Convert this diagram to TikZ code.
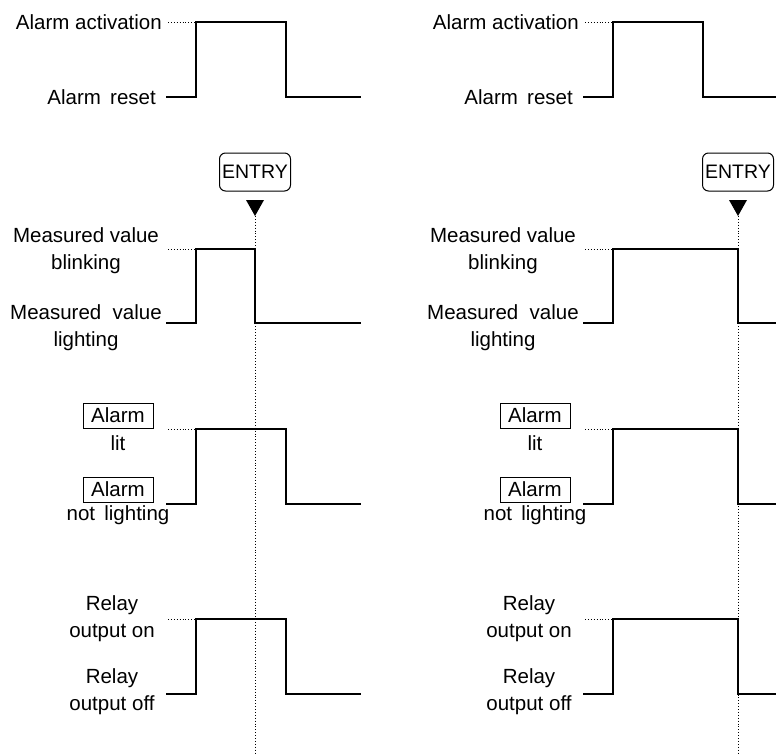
\documentclass[tikz,border=0pt]{standalone}
\usepackage{fontspec}
\setmainfont{Liberation Sans}
\usetikzlibrary{positioning}
\newcommand{\tdfont}{\fontsize{20.5}{27}\selectfont}
\tikzset{
  wave/.style={
    line width=2pt,
    line join=miter
  },
  guide/.style={
    dotted,
    line width=0.9pt
  },
  tag/.style={
    align=center,
    inner sep=0pt,
    font=\tdfont
  },
  lampbox/.style={
    draw,
    line width=1pt,
    inner sep=0pt,
    minimum width=70pt,
    minimum height=25pt,
    font=\tdfont
  },
  entrykey/.style={
    draw,
    line width=1pt,
    rounded corners=6pt,
    inner sep=0pt,
    minimum width=71pt,
    minimum height=38pt,
    font=\fontsize{19.5}{20}\selectfont
  }
}

\begin{document}
\begin{tikzpicture}[x=1pt,y=-1pt]
  \path[use as bounding box, clip] (0,0) rectangle (776,755);
  % left: ENTRY before reset, right: ENTRY after reset
  \foreach \dx/\entry/\off in {0/255/286, 417/321/321}{
  \begin{scope}[xshift=\dx pt]
    % alarm input
    \node[tag, anchor=east] (act\dx) at (162,22) {Alarm activation};
    \node[tag, anchor=east] (rst\dx) at (156,97) {Alarm\hspace{0.45em}reset};
    \draw[guide] (168,22) -- (196,22);
    \draw[wave] (166,97) -- (196,97) -- (196,22) -- (286,22) -- (286,97) -- (361,97);
    % ENTRY key
    \coordinate (tip\dx) at (\entry,216);
    \coordinate (foot\dx) at (\entry,755);
    \fill (tip\dx) -- ++(-9,-16) -- ++(18,0) -- cycle;
    \node[entrykey] (key\dx) at (\entry,172) {ENTRY};
    \draw[guide] (tip\dx) -- (foot\dx);
    % measured value
    \node[tag] (blink\dx) at (86,251) {Measured value\\blinking};
    \node[tag] (light\dx) at (86,328) {Measured\ \ value\\lighting};
    \draw[guide] (168,249) -- (196,249);
    \draw[wave] (166,323) -- (196,323) -- (196,249) -- (\entry,249) -- (\entry,323) -- (361,323);
    % alarm lamp
    \node[lampbox] (lampon\dx) at (118,415.5) {Alarm};
    \node[tag, below=7pt of lampon\dx] (lit\dx) {lit};
    \node[lampbox] (lampoff\dx) at (118,489.5) {Alarm};
    \node[tag, below=3pt of lampoff\dx] (unlit\dx) {not\hspace{0.45em}lighting};
    \draw[guide] (168,429) -- (196,429);
    \draw[wave] (166,504) -- (196,504) -- (196,429) -- (\off,429) -- (\off,504) -- (361,504);
    % relay output
    \node[tag] (ron\dx) at (112,618.5) {Relay\\output on};
    \node[tag] (roff\dx) at (112,691.5) {Relay\\output off};
    \draw[guide] (168,619) -- (196,619);
    \draw[wave] (166,694) -- (196,694) -- (196,619) -- (\off,619) -- (\off,694) -- (361,694);
  \end{scope}
  }
\end{tikzpicture}
\end{document}
